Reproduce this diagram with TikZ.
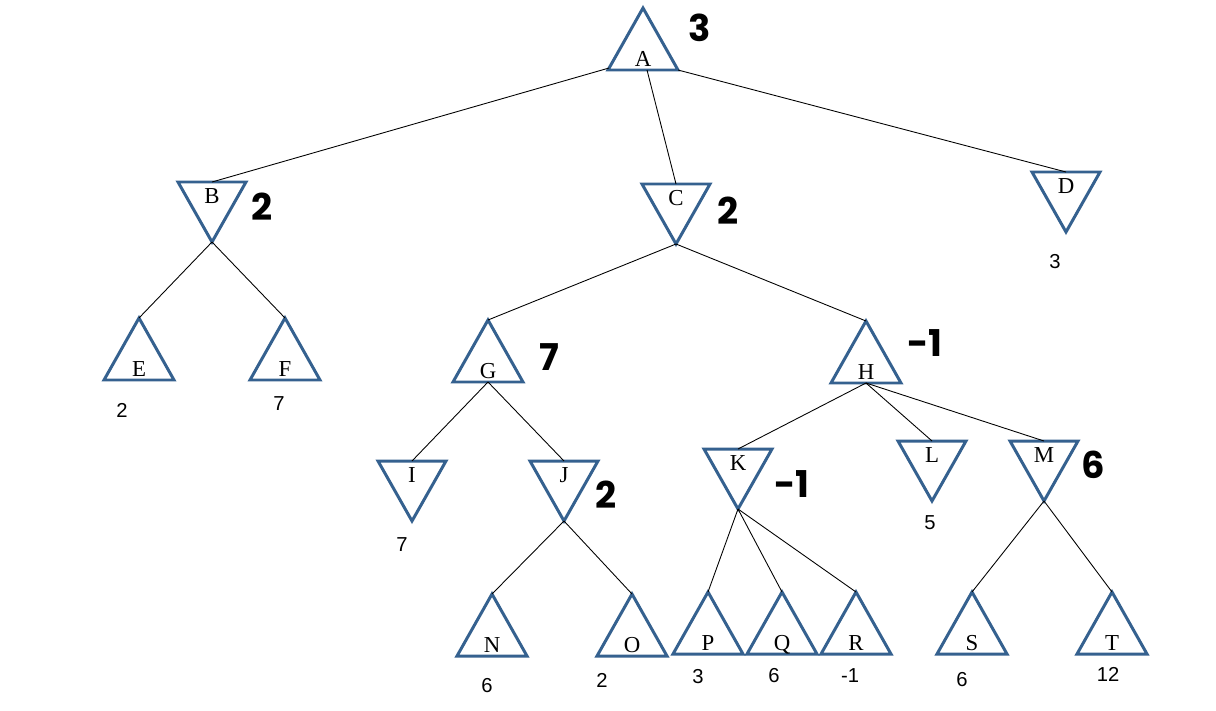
\documentclass[tikz,border=0pt]{standalone}
\usepackage{fontspec}
\setmainfont{Liberation Serif}
\newfontfamily\valfont{Liberation Sans}
\newfontfamily\handfont{Poppins}
\definecolor{tri}{HTML}{35618F}
\begin{document}
\begin{tikzpicture}[x=0.02cm,y=-0.02cm,
  trist/.style={draw=tri,line width=1.7pt,line join=miter},
  edge/.style={draw=black,line width=0.5pt},
  lett/.style={font=\fontsize{13}{13}\selectfont,inner sep=0pt},
  val/.style={font=\valfont\fontsize{11.5}{12}\selectfont,inner sep=0pt},
  hand/.style={font=\handfont\bfseries\fontsize{21}{21}\selectfont,inner sep=0pt}]
\useasboundingbox (0,0) rectangle (1216,710);
% up triangles: apex (x,y)
\newcommand\uptri[4]{%
  \coordinate (#1t) at (#2,#3); \coordinate (#1b) at (#2,#3+62);
  \draw[trist] (#2,#3) -- (#2-35,#3+62) -- (#2+35,#3+62) -- cycle;
  \node[lett,anchor=base] (#1l) at (#2,#3+58) {#4};}
% down triangles: top centre (x,y)
\newcommand\dntri[4]{%
  \coordinate (#1t) at (#2,#3); \coordinate (#1b) at (#2,#3+60);
  \draw[trist] (#2-34,#3) -- (#2+34,#3) -- (#2,#3+60) -- cycle;
  \node[lett,anchor=base] (#1l) at (#2,#3+21) {#4};}
\uptri{A}{643}{8}{A}
\dntri{B}{212}{182}{B}
\dntri{C}{676}{184}{C}
\dntri{D}{1066}{172}{D}
\uptri{E}{139}{318}{E}
\uptri{F}{285}{318}{F}
\uptri{G}{488}{320}{G}
\uptri{H}{866}{321}{H}
\dntri{I}{412}{461}{I}
\dntri{J}{564}{461}{J}
\dntri{K}{738}{449}{K}
\dntri{L}{932}{441}{L}
\dntri{M}{1044}{441}{M}
\uptri{N}{492}{594}{N}
\uptri{O}{632}{594}{O}
\uptri{P}{708}{592}{P}
\uptri{Q}{782}{592}{Q}
\uptri{R}{856}{592}{R}
\uptri{S}{972}{592}{S}
\uptri{T}{1112}{592}{T}
% edges
\coordinate (Abl) at (609,68); \coordinate (Abr) at (678,70); \coordinate (Abm) at (647,70);
\draw[edge] (Abl) -- (Bt);
\draw[edge] (Abm) -- (Ct);
\draw[edge] (Abr) -- (Dt);
\draw[edge] (Bb) -- (Et); \draw[edge] (Bb) -- (Ft);
\draw[edge] (Cb) -- (Gt); \draw[edge] (Cb) -- (Ht);
\draw[edge] (Gb) -- (It); \draw[edge] (Gb) -- (Jt);
\draw[edge] (Hb) -- (Kt); \draw[edge] (Hb) -- (Lt); \draw[edge] (Hb) -- (Mt);
\draw[edge] (Jb) -- (Nt); \draw[edge] (Jb) -- (Ot);
\draw[edge] (Kb) -- (Pt); \draw[edge] (Kb) -- (Qt); \draw[edge] (Kb) -- (Rt);
\draw[edge] (Mb) -- (St); \draw[edge] (Mb) -- (Tt);
% handwritten values
\node[hand] (hA) at (700,28) {3};
\node[hand] (hB) at (262,207) {2};
\node[hand] (hC) at (728,211) {2};
\node[hand] (hG) at (549,357) {7};
\node[hand] (hH) at (925,343) {-1};
\node[hand] (hJ) at (606,495) {2};
\node[hand] (hK) at (792,484) {-1};
\node[hand] (hM) at (1093,465) {6};
% leaf values
\node[val] (vD) at (1055,262) {3};
\node[val] (vE) at (122,410) {2};
\node[val] (vF) at (279,404) {7};
\node[val] (vI) at (402,545) {7};
\node[val] (vL) at (930,523) {5};
\node[val] (vN) at (487,686) {6};
\node[val] (vO) at (602,680) {2};
\node[val] (vP) at (698,677) {3};
\node[val] (vQ) at (774,676) {6};
\node[val] (vR) at (850,676) {-1};
\node[val] (vS) at (962,680) {6};
\node[val] (vT) at (1108,674) {12};
\end{tikzpicture}
\end{document}
